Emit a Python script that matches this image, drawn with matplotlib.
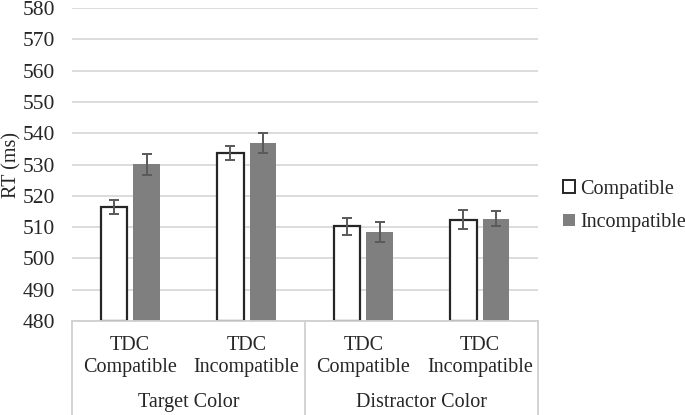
import numpy as np
import matplotlib.pyplot as plt
from matplotlib.patches import Patch

plt.rcParams["font.family"] = ["Liberation Serif", "DejaVu Serif"]

conditions = ["TDC\nCompatible", "TDC\nIncompatible", "TDC\nCompatible", "TDC\nIncompatible"]
groups = ["Target Color", "Distractor Color"]
compatible = [516.4, 533.7, 510.2, 512.4]
compatible_err = [2.2, 2.3, 2.6, 3.0]
incompatible = [530.0, 536.9, 508.4, 512.7]
incompatible_err = [3.2, 3.2, 3.3, 2.4]
yticks = np.arange(480, 581, 10)

W, H = 685, 415
fig = plt.figure(figsize=(W / 100, H / 100), dpi=100)
ax_l, ax_r, ax_t, ax_b = 72, 538, 8, 321
ax = fig.add_axes([ax_l / W, 1 - ax_b / H, (ax_r - ax_l) / W, (ax_b - ax_t) / H])

x = np.arange(len(conditions))
off, bw = 0.14, 0.23
ecol = "#595959"
ax.bar(x - off, np.array(compatible) - 480, bw, bottom=480, color="white",
       edgecolor="#262626", linewidth=1.6, zorder=3)
ax.bar(x + off, np.array(incompatible) - 480, bw, bottom=480, color="#7f7f7f",
       edgecolor="none", zorder=3)
ax.errorbar(x - off, compatible, yerr=compatible_err, fmt="none", ecolor=ecol,
            elinewidth=1.4, capsize=3.6, capthick=1.4, zorder=4)
ax.errorbar(x + off, incompatible, yerr=incompatible_err, fmt="none", ecolor=ecol,
            elinewidth=1.4, capsize=3.6, capthick=1.4, zorder=4)

ax.set_xlim(-0.5, 3.5)
ax.set_ylim(480, 580)
ax.set_yticks(yticks)
ax.yaxis.grid(True, color="#d9d9d9", linewidth=1.3, zorder=0)
for s in ax.spines.values():
    s.set_visible(False)
ax.tick_params(axis="y", length=0, pad=12, labelsize=15.5, labelcolor="#262626")
ax.set_xticks(x)
ax.set_xticklabels(conditions, fontsize=14.5, color="#262626")
ax.tick_params(axis="x", length=0, pad=11)

# y label placed by hand so it sits at the left edge like the original
fig.text(2 / W, 1 - 165 / H, "RT (ms)", rotation=90, ha="left", va="center",
         fontsize=14.5, color="#262626")

# category table lines below the plot
lc = "#d0d0d0"
for xp in [ax_l, (ax_l + ax_r) / 2, ax_r]:
    fig.add_artist(plt.Line2D([xp / W, xp / W], [1 - ax_b / H, 0], color=lc, lw=1.3))
fig.add_artist(plt.Line2D([ax_l / W, ax_r / W], [1 - ax_b / H, 1 - ax_b / H], color=lc, lw=1.3))
for i, g in enumerate(groups):
    xc = ax_l + (ax_r - ax_l) * (0.25 + 0.5 * i)
    fig.text(xc / W, 1 - 402 / H, g, ha="center", va="center", fontsize=14.5, color="#262626")

handles = [Patch(facecolor="white", edgecolor="#262626", linewidth=1.4),
           Patch(facecolor="#7f7f7f", edgecolor="none")]
fig.legend(handles, ["Compatible", "Incompatible"], loc="center left",
           bbox_to_anchor=(545 / W, 1 - 206 / H), frameon=False, fontsize=14.5,
           handlelength=0.6, handleheight=0.6, handletextpad=0.25, labelspacing=0.7,
           labelcolor="#262626")

fig.savefig("out.png", dpi=100)
